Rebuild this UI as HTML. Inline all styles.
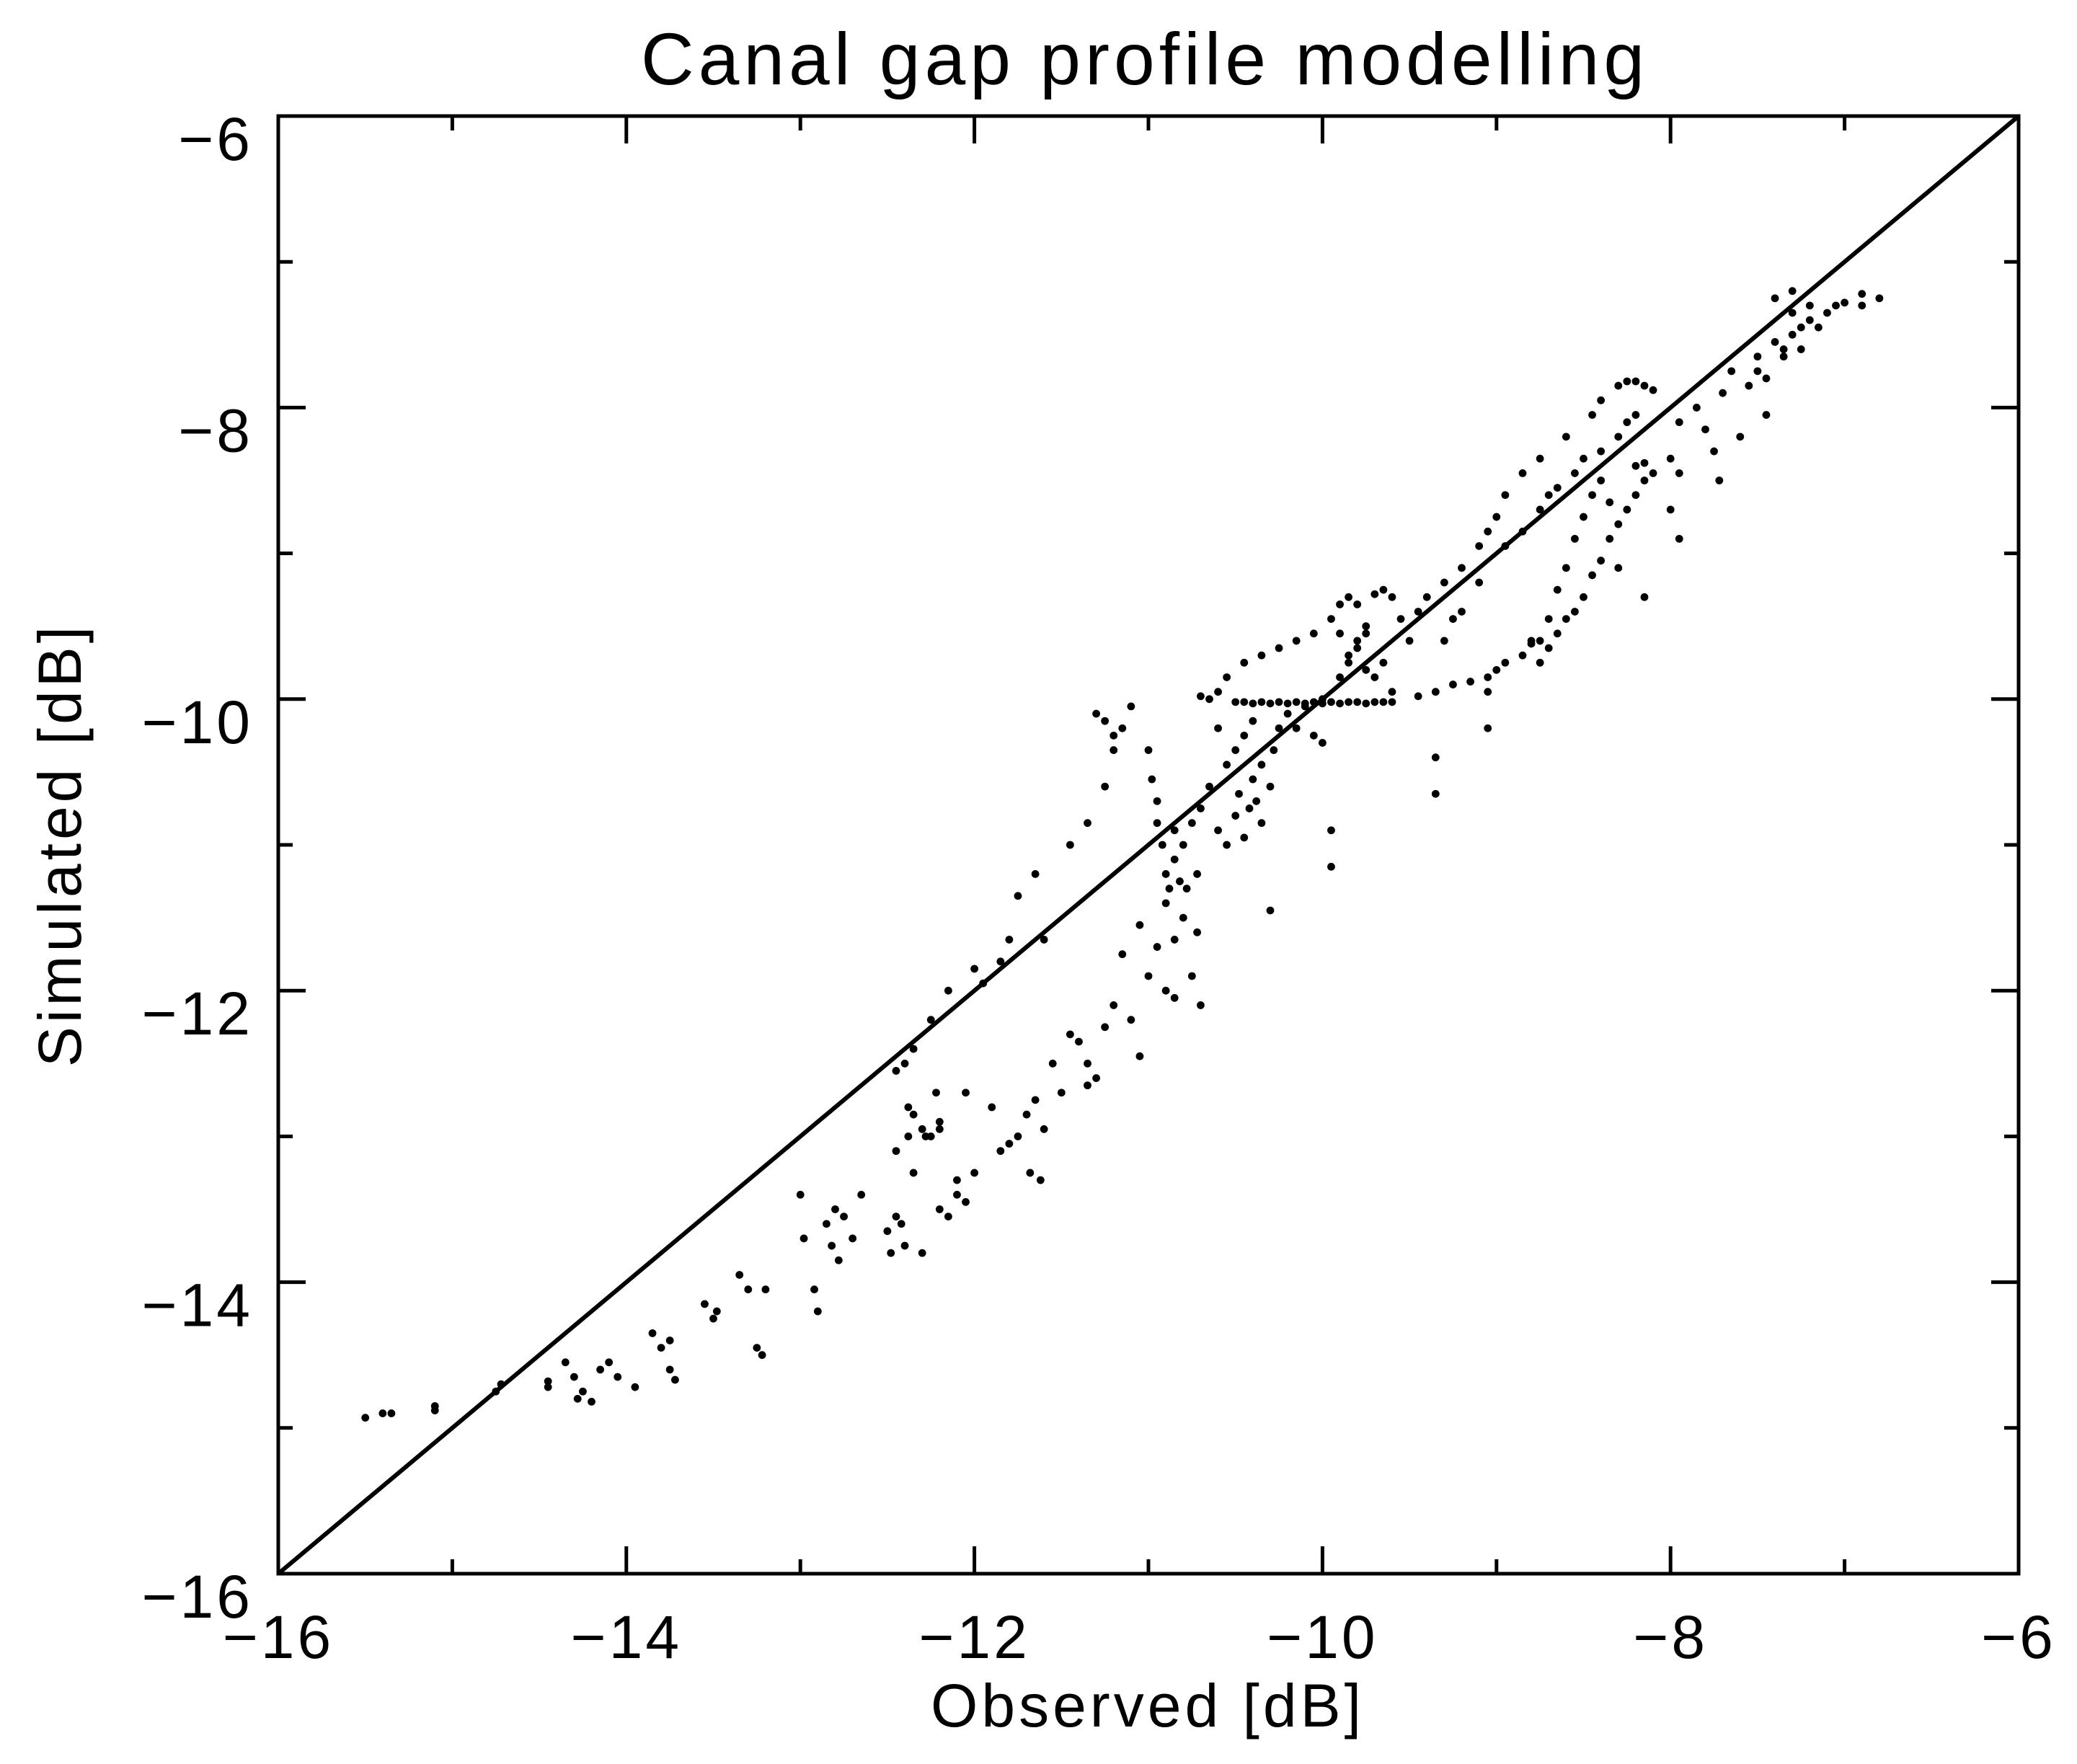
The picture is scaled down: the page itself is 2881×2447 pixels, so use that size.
<!DOCTYPE html>
<html><head><meta charset="utf-8"><style>
html,body{margin:0;padding:0;background:#fff;}
svg text{font-family:"Liberation Sans",sans-serif;fill:#000;}
</style></head><body>
<svg id="chart" width="2881" height="2442" viewBox="0 0 2881 2442" xmlns="http://www.w3.org/2000/svg">
<rect width="2881" height="2442" fill="#fff"/>
<text x="1588" y="117" font-size="102" letter-spacing="6" text-anchor="middle">Canal gap profile modelling</text>
<text x="1592" y="2395" font-size="84" letter-spacing="5" text-anchor="middle">Observed [dB]</text>
<text x="0" y="0" font-size="84" letter-spacing="5" text-anchor="middle" transform="translate(112,1172) rotate(-90)">Simulated [dB]</text>
<g id="marks"></g>
<g id="axes"></g>
</svg>
<script>
const xTicks=[-16,-14,-12,-10,-8,-6];
const yTicks=[-16,-14,-12,-10,-8,-6];
const minorTicks=[-15,-13,-11,-9,-7];
const obsX=[-15.5,-15.4,-15.35,-15.1,-15.1,-14.75,-14.72,-14.45,-14.45,-14.35,-14.3,-14.28,-14.25,-14.2,-14.15,-14.1,-14.05,-13.95,-13.85,-13.8,-13.75,-13.75,-13.72,-13.55,-13.5,-13.48,-13.35,-13.3,-13.25,-13.22,-13.2,-13.0,-12.98,-12.92,-12.9,-12.85,-12.82,-12.8,-12.78,-12.75,-12.7,-12.65,
-12.5,-12.48,-12.45,-12.45,-12.42,-12.4,-12.38,-12.38,-12.35,-12.35,-12.3,-12.3,-12.28,-12.25,-12.22,-12.2,-12.2,-12.45,-12.4,-12.35,-12.25,-12.15,-12.05,-12.1,-12.1,-12.05,-12.0,-12.15,-12.2,
-12.0,-11.95,-11.85,-11.8,-11.75,-11.65,-11.6,-11.45,-11.35,-11.25,-11.2,-11.15,-11.1,-11.3,-11.25,-11.2,
-11.9,-11.85,-11.8,-11.75,-11.7,-11.68,-11.65,-11.62,-11.6,-11.55,-11.5,-11.45,-11.4,-11.35,-11.35,-11.3,-11.25,-11.2,-11.15,-11.1,-11.05,-11.05,-11.0,-10.95,-10.9,-10.85,-10.85,-10.8,-10.75,-10.72,-10.7,
-11.0,-10.98,-10.95,-10.95,-10.92,-10.9,-10.9,-10.88,-10.85,-10.85,-10.82,-10.8,-10.78,-10.75,-10.72,-10.7,-10.65,-10.6,-10.55,-10.5,-10.48,-10.45,-10.42,-10.4,-10.38,-10.35,-10.35,-10.3,-10.28,-10.25,-10.2,-10.5,-10.45,-10.4,-10.55,-10.6,-10.3,
-10.7,-10.65,-10.6,-10.55,-10.45,-10.35,-10.25,-10.15,-10.05,-9.95,-9.9,-9.85,-9.8,-9.75,-9.7,-9.65,-9.6,-9.9,-9.85,-9.8,-9.75,-9.7,-9.65,-9.6,
-10.5,-10.45,-10.4,-10.35,-10.3,-10.25,-10.2,-10.15,-10.1,-10.05,-10.0,-9.95,-9.9,-9.85,-9.8,-9.75,-9.7,-9.65,-9.6,
-9.55,-9.5,-9.45,-9.4,-9.3,-9.2,-9.1,-9.05,-9.0,-8.95,-8.85,-8.75,-8.6,-8.45,-8.4,-8.3,-8.25,-8.2,-8.15,-8.1,
-9.45,-9.35,-9.25,-9.15,-9.05,-9.0,-8.95,-8.85,-8.8,-8.75,-8.7,-8.65,-8.6,-8.55,-8.5,-8.45,-8.4,-8.35,-8.3,-8.25,-8.2,-8.15,-8.1,-8.0,-7.95,-7.95,-8.0,-8.15,-8.3,-8.35,-8.4,-8.45,-8.5,-8.55,-8.6,-8.65,-8.7,-8.75,-8.8,-9.05,-9.05,-9.35,-9.35,-9.95,-9.95,
-9.3,-9.25,-9.2,-9.1,-8.95,-8.85,-8.75,-8.7,-8.65,-8.55,-8.5,-8.4,-8.3,-8.25,-8.2,-8.2,-8.15,
-7.95,-7.85,-7.8,-7.75,-7.72,-7.7,-7.65,-7.6,-7.55,-7.5,-7.45,-7.45,-7.4,-7.35,-7.3,-7.3,-7.25,-7.25,-7.2,-7.2,-7.15,-7.1,-7.05,-7.0,-6.9,-6.9,-6.8,-7.4,-7.3,-7.35,-7.5,
-10.1,-10.0,-9.9,-9.85,-9.8,-9.75,-10.15,-10.05,-10.0];
const simY=[-14.93,-14.9,-14.9,-14.85,-14.88,-14.75,-14.7,-14.68,-14.72,-14.55,-14.65,-14.8,-14.75,-14.82,-14.6,-14.55,-14.65,-14.72,-14.35,-14.45,-14.4,-14.6,-14.67,-14.15,-14.25,-14.2,-13.95,-14.05,-14.45,-14.5,-14.05,-13.4,-13.7,-14.05,-14.2,-13.6,-13.75,-13.5,-13.85,-13.55,-13.7,-13.4,
-13.65,-13.8,-13.55,-13.1,-13.6,-13.75,-12.8,-13.0,-12.85,-13.25,-13.8,-12.95,-13.0,-13.0,-12.7,-12.9,-12.95,-12.55,-12.5,-12.4,-12.2,-12.0,-12.7,-13.3,-13.4,-13.45,-13.25,-13.55,-13.5,
-11.85,-11.95,-11.8,-11.65,-11.35,-11.2,-11.65,-11.0,-10.85,-10.6,-10.35,-10.2,-10.05,-10.1,-10.15,-10.25,
-12.8,-13.1,-13.05,-13.0,-12.85,-13.25,-12.75,-13.3,-12.95,-12.5,-12.7,-12.3,-12.35,-12.5,-12.65,-12.6,-12.25,-12.1,-11.75,-12.2,-12.45,-11.55,-11.9,-11.7,-12.0,-11.65,-12.05,-11.5,-11.9,-11.6,-12.1,
-10.35,-10.55,-10.7,-10.85,-11.0,-11.2,-11.4,-11.3,-11.1,-10.9,-11.25,-11.0,-11.3,-10.85,-11.2,-10.75,-10.6,-10.9,-11.0,-10.8,-10.65,-10.95,-10.75,-10.55,-10.7,-10.85,-10.45,-10.6,-10.35,-10.2,-10.1,-10.35,-10.25,-10.15,-10.45,-10.2,-11.45,
-9.98,-10.0,-9.95,-9.85,-9.75,-9.7,-9.65,-9.6,-9.55,-9.45,-9.35,-9.3,-9.35,-9.5,-9.28,-9.25,-9.3,-9.55,-9.7,-9.65,-9.8,-9.85,-9.75,-9.95,
-10.02,-10.02,-10.03,-10.02,-10.03,-10.02,-10.03,-10.02,-10.03,-10.02,-10.03,-10.02,-10.03,-10.02,-10.02,-10.03,-10.02,-10.02,-10.02,
-9.45,-9.6,-9.4,-9.3,-9.2,-9.1,-8.95,-8.85,-8.75,-8.6,-8.45,-8.35,-8.2,-8.05,-7.95,-7.85,-7.82,-7.82,-7.85,-7.88,
-9.98,-9.95,-9.9,-9.88,-9.85,-9.8,-9.75,-9.7,-9.62,-9.6,-9.65,-9.55,-9.45,-9.4,-9.3,-9.15,-9.05,-8.9,-8.8,-8.7,-8.6,-8.5,-8.45,-8.35,-8.45,-8.9,-8.7,-9.3,-9.1,-8.65,-8.5,-8.6,-8.75,-8.9,-9.1,-9.25,-9.45,-9.75,-9.6,-9.95,-10.2,-10.4,-10.65,-10.9,-11.15,
-9.6,-9.45,-9.4,-9.2,-8.95,-8.85,-8.7,-8.6,-8.55,-8.45,-8.35,-8.3,-8.2,-8.1,-8.05,-8.4,-8.38,
-8.1,-8.0,-8.15,-8.3,-8.5,-7.9,-7.75,-8.2,-7.85,-7.65,-7.8,-8.05,-7.55,-7.65,-7.5,-7.35,-7.45,-7.6,-7.4,-7.3,-7.45,-7.35,-7.3,-7.28,-7.22,-7.3,-7.25,-7.25,-7.2,-7.6,-7.75,
-10.05,-10.0,-9.85,-9.75,-9.6,-9.55,-10.2,-10.25,-10.3];
const NS='http://www.w3.org/2000/svg';
const L=386,R=2800,T=161,B=2183,dMin=-16,dMax=-6;
function sx(v){return L+(v-dMin)/(dMax-dMin)*(R-L);}
function sy(v){return B-(v-dMin)/(dMax-dMin)*(B-T);}
const marks=document.getElementById('marks');
const axes=document.getElementById('axes');
function mk(tag,attrs,parent){const e=document.createElementNS(NS,tag);for(const k in attrs)e.setAttribute(k,attrs[k]);parent.appendChild(e);return e;}
const line=mk('line',{x1:sx(-16),y1:sy(-16),x2:sx(-6),y2:sy(-6),stroke:'#000','stroke-width':6},marks);


for(let i=0;i<obsX.length&&i<simY.length;i++){
  const c=mk('circle',{cx:sx(obsX[i]),cy:sy(simY[i]),r:5.4,fill:'#000'},marks);
  
  
}
const frame=mk('rect',{x:L,y:T,width:R-L,height:B-T,fill:'none',stroke:'#000','stroke-width':5},axes);


xTicks.forEach(v=>{
  const x=sx(v);
  mk('line',{x1:x,y1:B,x2:x,y2:B-38,stroke:'#000','stroke-width':5},axes);
  mk('line',{x1:x,y1:T,x2:x,y2:T+38,stroke:'#000','stroke-width':5},axes);
  const t=mk('text',{x:x,y:2300,'font-size':84,'letter-spacing':4,'text-anchor':'middle'},axes);
  t.textContent='\u2212'+Math.abs(v);
  
  
});
yTicks.forEach(v=>{
  const y=sy(v);
  mk('line',{x1:L,y1:y,x2:L+38,y2:y,stroke:'#000','stroke-width':5},axes);
  mk('line',{x1:R,y1:y,x2:R-38,y2:y,stroke:'#000','stroke-width':5},axes);
  const t=mk('text',{x:351,y:y+61,'font-size':84,'letter-spacing':4,'text-anchor':'end'},axes);
  t.textContent='\u2212'+Math.abs(v);
  
  
});
minorTicks.forEach(v=>{
  const x=sx(v),y=sy(v);
  mk('line',{x1:x,y1:B,x2:x,y2:B-20,stroke:'#000','stroke-width':5},axes);
  mk('line',{x1:x,y1:T,x2:x,y2:T+20,stroke:'#000','stroke-width':5},axes);
  mk('line',{x1:L,y1:y,x2:L+20,y2:y,stroke:'#000','stroke-width':5},axes);
  mk('line',{x1:R,y1:y,x2:R-20,y2:y,stroke:'#000','stroke-width':5},axes);
});
</script>
</body></html>
